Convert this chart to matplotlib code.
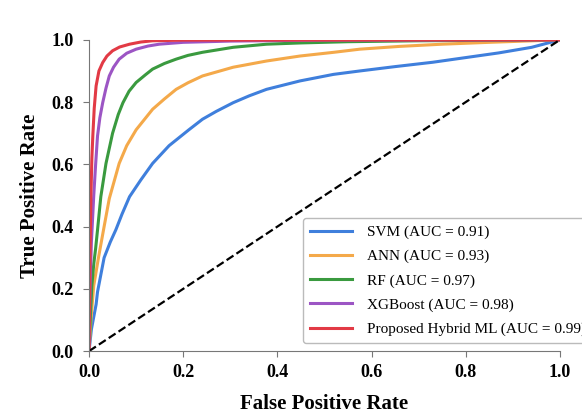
import numpy as np
import matplotlib
matplotlib.use("Agg")
import matplotlib.pyplot as plt

# ROC points
svm_fpr = [0.0, 0.005, 0.01, 0.015, 0.018, 0.025, 0.032, 0.045, 0.057, 0.07, 0.086, 0.11, 0.135,
           0.17, 0.212, 0.241, 0.27, 0.306, 0.34, 0.377, 0.448, 0.519, 0.575, 0.65, 0.73, 0.80,
           0.87, 0.94, 1.0]
svm_tpr = [0.0, 0.07, 0.11, 0.15, 0.19, 0.245, 0.30, 0.35, 0.39, 0.44, 0.496, 0.55, 0.603,
           0.66, 0.711, 0.745, 0.77, 0.798, 0.82, 0.841, 0.868, 0.889, 0.90, 0.914, 0.928, 0.943,
           0.958, 0.976, 1.0]

ann_fpr = [0.0, 0.004, 0.01, 0.02, 0.026, 0.032, 0.043, 0.064, 0.08, 0.10, 0.135, 0.16, 0.185,
           0.21, 0.241, 0.306, 0.377, 0.448, 0.52, 0.575, 0.66, 0.75, 0.85, 1.0]
ann_tpr = [0.0, 0.10, 0.21, 0.30, 0.35, 0.40, 0.49, 0.603, 0.66, 0.711, 0.777, 0.81, 0.841,
           0.862, 0.884, 0.912, 0.932, 0.948, 0.96, 0.97, 0.979, 0.986, 0.992, 1.0]

rf_fpr = [0.0, 0.003, 0.006, 0.01, 0.014, 0.018, 0.025, 0.036, 0.05, 0.062, 0.072, 0.085, 0.10,
          0.12, 0.135, 0.16, 0.185, 0.21, 0.241, 0.306, 0.377, 0.448, 0.55, 0.70, 1.0]
rf_tpr = [0.0, 0.12, 0.21, 0.28, 0.33, 0.389, 0.496, 0.603, 0.70, 0.76, 0.798, 0.835, 0.863,
          0.888, 0.906, 0.924, 0.938, 0.95, 0.96, 0.976, 0.986, 0.99, 0.994, 0.997, 1.0]

xgb_fpr = [0.0, 0.002, 0.005, 0.01, 0.014, 0.018, 0.023, 0.029, 0.036, 0.043, 0.052, 0.064, 0.08,
           0.10, 0.125, 0.149, 0.20, 0.30, 0.50, 1.0]
xgb_tpr = [0.0, 0.20, 0.35, 0.50, 0.60, 0.691, 0.75, 0.798, 0.845, 0.884, 0.912, 0.938, 0.957,
           0.97, 0.98, 0.986, 0.992, 0.996, 0.999, 1.0]

hyb_fpr = [0.0, 0.002, 0.004, 0.006, 0.008, 0.011, 0.015, 0.021, 0.029, 0.038, 0.05, 0.065, 0.086,
           0.11, 0.135, 0.20, 1.0]
hyb_tpr = [0.0, 0.30, 0.50, 0.62, 0.691, 0.78, 0.852, 0.90, 0.927, 0.948, 0.965, 0.977, 0.986,
           0.993, 0.997, 0.999, 1.0]

labels = ['SVM (AUC = 0.91)', 'ANN (AUC = 0.93)', 'RF (AUC = 0.97)',
          'XGBoost (AUC = 0.98)', 'Proposed Hybrid ML (AUC = 0.99)']
colors = ['#3f7fdc', '#f4a94a', '#3a9a3f', '#9c55c4', '#e23a45']


def main():
  plt.rcParams['font.family'] = ['Liberation Serif', 'DejaVu Serif']

  fig = plt.figure(figsize=(5.82, 4.15), dpi=100)
  ax = fig.add_axes([0.153, 0.154, 0.809, 0.750])

  curves = [(svm_fpr, svm_tpr), (ann_fpr, ann_tpr), (rf_fpr, rf_tpr),
            (xgb_fpr, xgb_tpr), (hyb_fpr, hyb_tpr)]
  for (x, y), lab, c in zip(curves, labels, colors):
    ax.plot(x, y, color=c, lw=2.2, label=lab, solid_joinstyle='round')

  ax.plot([0, 1], [0, 1], 'k--', lw=1.6)

  ax.set_xlim(0, 1)
  ax.set_ylim(0, 1)
  ax.set_xticks(np.arange(0, 1.01, 0.2))
  ax.set_yticks(np.arange(0, 1.01, 0.2))
  ax.tick_params(labelsize=13, length=4, color='#777777')
  ax.tick_params(axis='y', pad=7)
  ax.tick_params(axis='x', pad=5)
  for t in ax.get_xticklabels() + ax.get_yticklabels():
    t.set_fontweight('bold')
  for s in ['top', 'right']:
    ax.spines[s].set_visible(False)
  for s in ['left', 'bottom']:
    ax.spines[s].set_color('#777777')

  ax.set_xlabel('False Positive Rate', fontsize=15, fontweight='bold', labelpad=10)
  ax.set_ylabel('True Positive Rate', fontsize=15, fontweight='bold', labelpad=8)

  # legend sticks out past the right edge in the original, the ")" gets cut
  fig.legend(loc='lower left', bbox_to_anchor=(0.5206, 0.1735), fontsize=11,
             frameon=True, edgecolor='#aaaaaa', fancybox=True, borderaxespad=0,
             handlelength=2.75, handletextpad=1.0, labelspacing=0.68, borderpad=0.45)

  fig.savefig('out.png', dpi=100)


if __name__ == '__main__':
  main()
